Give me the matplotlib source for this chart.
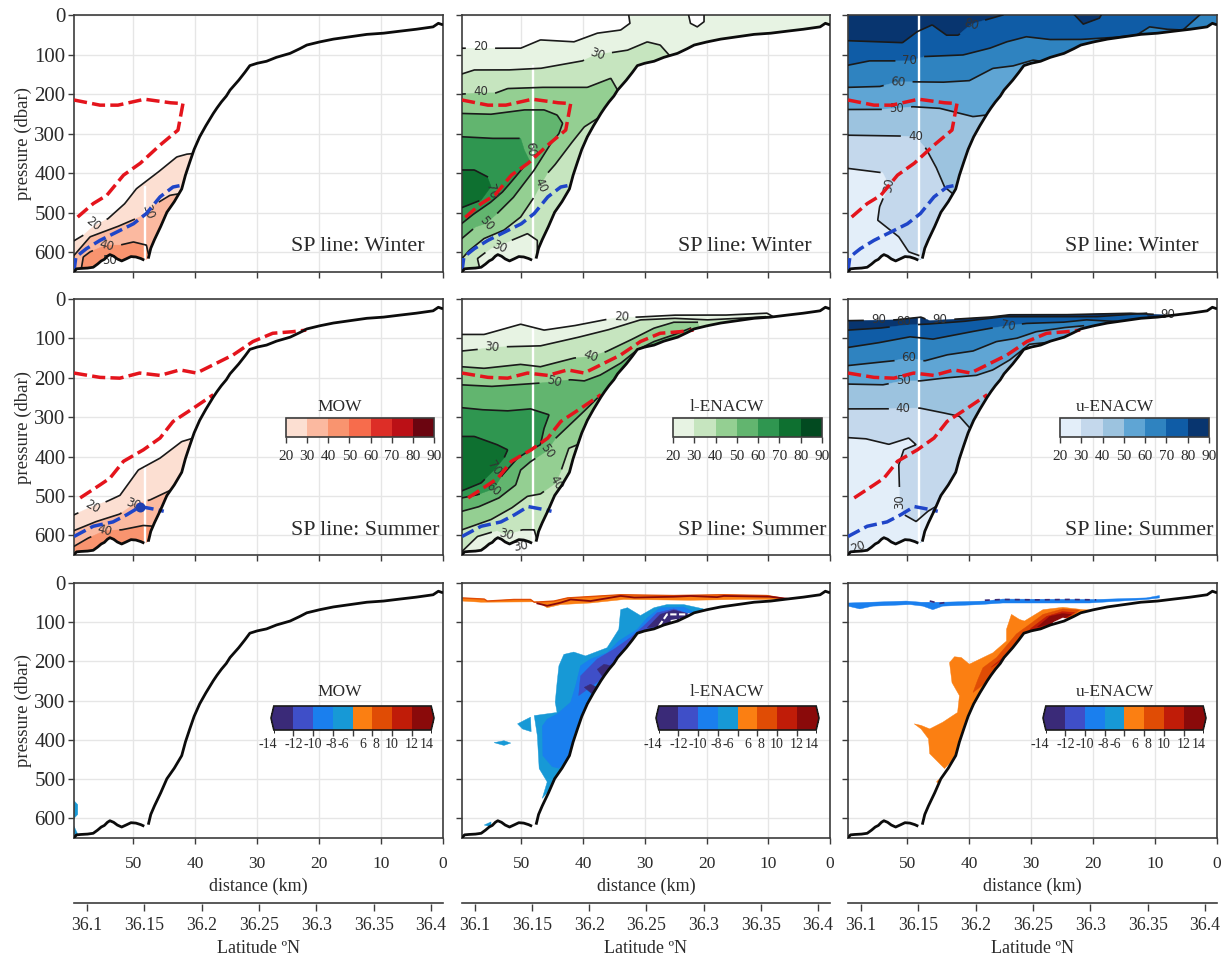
import numpy as np
import matplotlib
matplotlib.use("Agg")
import matplotlib.pyplot as plt
from matplotlib.patches import Polygon
from matplotlib.colors import ListedColormap, BoundaryNorm
from matplotlib.cm import ScalarMappable

plt.rcParams['font.family'] = ['Liberation Serif', 'DejaVu Serif']

# ---------- data: all curves are (distance km, pressure dbar) ----------
bathy_deep = [(59.6,650),(59.2,642),(58.5,641),(57.4,640),(56.5,638),(55.8,630),(55.2,622),(54.7,618),(54.2,610),(53.8,606),(53.2,610),(52.6,617),(51.9,622),(51.2,617),(50.4,611),(49.6,612),(48.8,616),(48.25,620)]
bathy_slope = [(47.6,616),(47.2,590),(46.6,568),(45.6,535),(44.6,499),(43.4,472),(42.2,440),(41.6,405),(40.9,372),(40.2,340),(39.3,308),(38.3,280),(37.1,249),(36.5,235),(35.8,220),(35,205),(34.4,190),(33,165),(32,145),(31.2,128),(30,122),(28.5,117),(26.9,107),(24.7,97),(23.1,85),(22,76),(19.9,68),(17.7,61),(15,55),(12.3,49),(9.6,46),(7,41),(4.3,36),(1.6,30),(0.75,21),(0,25)]

# MOW winter
RW_20 = [(59.6,571),(58.1,557),(56.5,535),(54.1,515),(51.4,477),(49.5,439),(46.3,401),(43,359),(41.4,352),(40.1,350)]
RW_30 = [(59.6,608),(57,561),(52.7,536),(49,511),(46.3,477),(44.1,456),(42.2,451)]
RW_40 = [(58.4,640),(58.1,612),(57,599),(54.4,582),(52.2,582),(50,574),(47.9,582),(47.6,603)]
RW_labels = [(56.5,529,'20',-38,20),(47.6,498,'30',-70,30),(54.4,582,'40',-15,40),(53.8,622,'50',0,50)]

# MOW summer
RS_20 = [(59.6,548),(58.5,540),(56.7,527),(54.3,514),(52.2,499),(49.2,434),(45.7,404),(42.2,362),(40.3,353)]
RS_30 = [(59.6,588),(56,565),(52.2,546),(50,522),(47.3,510),(43.8,484)]
RS_40 = [(59.6,628),(57.3,607),(54.6,588),(51.9,586),(48.4,575),(46.8,577),(47.6,615)]
RS_labels = [(56.7,527,'20',-30,20),(50,522,'30',-20,30),(54.6,588,'40',-15,40)]

# l-ENACW winter
GW_20 = [(59.6,84),(54,84),(50.1,84),(46.9,63),(41.5,68),(37.7,46),(33.9,38),(32.4,21),(32.6,0)]
GW_blob = [(22.9,0),(22.6,21),(21.5,30),(20.4,17),(20.4,0)]
GW_30_top = [(59.6,149),(57.6,139),(52.2,139),(46.9,135),(40.1,116),(37.7,99),(35.3,95),(32.8,89),(29.6,68),(27.5,76),(25.9,104)]
GW_30_bot = [(47.4,600),(47.4,570),(49,553),(52.2,574),(54.9,590),(56,603),(57.1,616),(56.8,636)]
GW_40_top = [(59.6,200),(56.6,197),(54.1,197),(52.2,186),(46.9,183),(39.3,183),(35.5,160),(34.4,190)]
GW_40_bot = [(37.7,262),(39.8,283),(41.5,316),(44.4,376),(45.8,401),(46.9,430),(47.9,460),(50.1,511),(52.8,544),(56,565),(58.4,595),(59.6,616)]
GW_50 = [(59.6,249),(54.9,251),(49.5,240),(46.3,240),(44.2,253),(43.3,274),(43.9,300),(45.2,325),(47.9,392),(51.2,460),(53.9,502),(55.7,527),(57.4,536),(59.6,565)]
GW_60 = [(59.6,308),(54.9,312),(50.1,312),(49.5,342),(48.7,367),(49.8,388),(51.4,418),(53,447),(54.9,473),(57.6,502),(59.6,527)]
GW_70 = [(59.6,392),(57.6,392),(55.5,409),(54.9,434),(56.5,468),(59.6,487)]
GW_labels = [(56.6,80,'20',0,20),(37.7,99,'30',-20,30),(56.6,194,'40',0,40),(48.6,340,'60',-85,60),(54.9,447,'70',-75,70),(55.7,527,'50',-50,50),(46.9,430,'40',-65,40),(53.6,586,'30',-25,30)]

# l-ENACW summer
GS_20 = [(59.6,90),(56,90),(50.1,64),(46.3,79),(41.5,68),(36.6,53),(33.8,46),(31.2,46),(25.3,41),(17.2,41),(10.2,36),(9.2,45)]
GS_30_top = [(59.6,132),(57.6,129),(54.7,123),(52,121),(46.9,119),(41.5,100),(36.1,79),(30.7,53),(25.3,49),(19.9,53),(14.5,49),(10.5,45)]
GS_30_bot = [(47.4,615),(47.9,586),(49.8,586),(52.5,598),(53.9,588),(57.1,603),(59.6,641)]
GS_40_top = [(59.6,172),(56,176),(50.1,166),(46.9,172),(41.5,150),(38.8,146),(36.3,134),(32.8,108),(28.5,74),(25.3,59),(21.5,59)]
GS_40_bot = [(40.9,370),(42.3,379),(43.6,438),(44.4,467),(46.9,495),(49,501),(51.4,529),(54.9,560),(59.6,586)]
GS_50_top = [(59.6,218),(54.9,222),(47.4,214),(44.7,210),(42,205),(39.8,208),(37.2,193),(33.9,163),(31.2,129),(28.5,108),(25.3,91),(22.6,74)]
GS_50_bot = [(37.7,252),(39.3,277),(44.4,353),(45.8,385),(48.5,413),(50.1,434),(50.9,472),(53.6,505),(56.8,527),(59.6,539)]
GS_60 = [(59.6,276),(56.5,281),(52.2,284),(48.5,279),(45.5,294),(46.3,328),(46.9,370),(48.5,383),(50.6,404),(53,446),(54.5,482),(57.1,497),(59.6,505)]
GS_70 = [(59.6,349),(57.6,349),(53.9,370),(52.2,383),(52.8,404),(54.4,434),(56.5,467),(59.6,487)]
GS_labels = [(33.8,46,'20',-3,20),(54.7,123,'30',-5,30),(38.8,146,'40',-20,40),(44.7,210,'50',-15,50),(54.4,430,'70',-55,70),(54.5,482,'60',-40,60),(45.8,385,'50',-55,50),(44.4,467,'40',-60,40),(52.5,598,'30',-15,30),(50.1,628,'30',10,301)]

# u-ENACW winter
BW_80 = [(59.6,65),(54.5,68),(50.8,70),(48.4,42),(46,25),(43.7,51),(41.8,51),(39.7,23),(37.5,13),(34.6,0)]
BW_blob = [(23,0),(21.6,23),(19,8),(18.7,0)]
BW_70 = [(59.6,127),(56.1,116),(52.3,116),(49.6,116),(47.2,105),(41,101),(36.7,84),(34,68),(30.8,55),(27,62),(22.2,62),(16.8,57),(13,51),(10.9,30),(8.2,36),(5.5,38),(2.8,0)]
BW_60 = [(59.6,183),(54.5,181),(51.6,169),(49.1,169),(44.3,170),(40,166),(36.2,135),(33,129),(29.7,114),(28.1,118)]
BW_50 = [(59.6,239),(54.5,239),(51.8,236),(49.1,232),(44.8,236),(39.4,257),(37.3,253)]
BW_40 = [(59.6,304),(51.3,306),(48.7,308),(47,338),(45.4,384),(44,435),(42.4,456),(42,432)]
BW_30 = [(59.6,388),(54,399),(53,430),(54.5,485),(54.8,519),(51.4,561),(49.8,599),(48.2,608)]
BW_labels = [(39.7,23,'80',-15,80),(49.6,116,'70',0,70),(51.6,169,'60',-5,60),(51.8,236,'50',0,50),(48.7,308,'40',0,40),(53,430,'30',80,30)]

# u-ENACW summer
BS_top = [(59.6,55),(52,53),(47.8,46),(46.4,55),(41,50),(36.7,46),(33.5,40),(24.9,40),(14.1,36),(8.7,40)]
BS_80 = [(59.6,79),(54.5,74),(50.2,66),(47,64),(41,57),(34.6,45),(19.5,45),(11.4,36)]
BS_70 = [(59.6,123),(55,112),(49.6,96),(45.9,102),(41,87),(36.5,74),(33.8,68),(30.8,62),(24.9,59),(21.1,53),(16.3,57)]
BS_60 = [(59.6,169),(56.1,163),(52.3,157),(49.8,149),(47.2,157),(43.7,142),(39.4,132),(35.6,108),(32.4,100),(29.2,83),(24.9,73),(21.6,68)]
BS_50 = [(59.6,216),(54,218),(50.7,208),(48,208),(44.3,201),(38.9,194),(36.2,180),(33.5,155),(30.3,115),(26,108),(23.3,91)]
BS_40 = [(59.6,279),(53.4,279),(50.7,277),(48,277),(44.8,287),(41.6,298),(39.9,328)]
BS_30 = [(59.6,352),(56.7,355),(53,369),(49.8,353),(48.6,370),(50.6,383),(51.4,421),(51.3,476),(51.3,514),(50.5,548),(48.6,565),(46.7,539),(45.4,527)]
BS_labels = [(54.6,53,'90',0,90),(50.6,57,'80',0,80),(44.8,53,'90',0,90),(7.9,40,'90',0,90),(33.8,68,'70',-10,70),(49.8,149,'60',0,60),(50.7,208,'50',0,50),(50.7,277,'40',0,40),(51.3,514,'30',90,30),(58,630,'20',20,20)]

# water-mass boundaries
red_w = [(59.6,215),(55.4,228),(52.5,228),(48.2,213),(44,222),(42,224),(42.8,291),(44.1,308),(45.7,329),(48.9,375),(51.6,405),(54.3,456),(56.5,477),(59.6,519)]
blue_w = [(59.6,648),(59.3,612),(57.6,591),(55.4,570),(50,528),(47.9,502),(45.7,460),(43.6,435),(42,430)]
red_s_upper = [(59.6,188),(55.4,199),(52.2,201),(49,188),(45.7,194),(42.5,180),(39.8,188),(37.1,167),(33.9,142),(30.7,108),(27.5,87),(24.3,83),(22.1,79)]
red_s_lower = [(58.6,505),(55.4,472),(53.8,455),(51.6,412),(48.4,383),(45.7,353),(43.6,311),(40.3,277),(37.1,243)]
blue_s = [(59.6,603),(56.5,577),(53.3,566),(51.1,548),(48.9,527),(46.2,535),(45.1,539)]
blue_s_dot = (48.9,527)

# differences, l-ENACW
DG_6 = [(46.6,549),(45.8,507),(47.1,473),(47.4,389),(47.9,338),(44.2,330),(44.5,304),(44.2,254),(43.9,211),(43.1,182),(41.5,176),(39.6,186),(36.1,165),(34.2,118),(33.9,68),(32.8,63),(30.7,83),(28.5,63),(26.4,55),(23.7,55),(20.5,66)]
DG_6b = [(50.6,359),(49.5,350),(48.5,342),(48.4,379),(49.8,372)]
DG_6c = [(54.4,407),(52.8,402),(51.7,408),(52.8,414)]
DG_6d = [(56,617),(54.9,609),(54.9,621)]
DG_8 = [(43.9,472),(45,468),(46.5,440),(46.6,365),(45.8,347),(44.2,334),(42,304),(41.2,262),(40.4,211),(38.8,194),(36.1,178),(34.2,148),(31.2,118),(29.6,89),(27.5,63),(23.7,61),(22.1,74)]
DG_10 = [(40.7,287),(40.4,237),(37.7,194),(35,169),(32.3,139),(30.2,110),(28,76),(25.3,66),(22.6,80)]
DG_12a = [(39.8,266),(38.8,258),(37.7,266),(38.2,287)]
DG_12b = [(37.7,220),(36.6,207),(35.5,211),(36.9,237)]
DG_12c = [(29.6,114),(27.5,80),(25.3,69),(22.6,80),(25.8,106)]
DG_white_a = [(27.7,110),(26.4,80),(22.6,80)]
DG_white_b = [(25.8,97),(24.2,93)]
DG_strip_upper = [(59.6,38),(56,41),(55.5,46),(51.2,42),(48.5,42),(47.9,49),(44.7,46),(42.5,38),(33.9,30),(25.3,32),(17.2,30),(10.2,32),(7,41)]
DG_strip_lower = [(59.6,46),(56.5,49),(47.4,48),(45.8,63),(43.6,55),(38.8,51),(33.4,42),(22.6,44),(14.5,42),(7,42)]
DG_strip_dark = [(47.4,52),(45.8,58),(43.6,50),(42,42),(38.8,46),(33.9,33),(31.7,37),(25.3,35),(22.6,33),(18.3,36),(17.2,33),(9.7,35),(7,40)]

# differences, u-ENACW
DB_6 = [(44,473),(46.4,435),(46.6,397),(47.8,372),(48.9,359),(47.8,363),(46.4,372),(44.3,355),(41.9,330),(41.6,287),(42.8,254),(43.2,203),(42.4,188),(41.3,190),(40,207),(36.2,178),(34,148),(34,118),(33.2,80),(31.9,93),(31.1,97),(28.1,68),(24.9,62),(21.6,68),(20,69)]
DB_6b = [(45.3,507),(44.5,516),(44.9,500)]
DB_8 = [(39.4,279),(38.6,245),(37.8,216),(35.6,190),(34,160),(32.4,130),(30.3,106),(28.1,80),(24.9,66),(22.2,69)]
DB_10 = [(36.5,215),(33,170),(30,115),(27.5,85),(25,73),(23,75)]
DB_12 = [(29,112),(27,85),(25,78),(23.5,80),(26,100)]
DB_gap = [(26.5,101),(24.9,89),(23.5,93),(24.9,106)]
DB_strip_upper = [(59.6,51),(50.2,46),(47.8,49),(44.3,49),(37.5,46),(34.6,41),(19.5,42),(11.4,38),(9.3,32)]
DB_strip_lower = [(59.6,59),(57.7,66),(55.6,59),(49.6,55),(47.5,59),(45.9,68),(44.3,59),(38.3,55),(34.6,51),(20.6,51),(11.4,42),(9.3,38)]
DB_dark_a = [(46.4,46),(44.8,52),(44,50)]
DB_dark_b = [(37.5,44),(34.6,42),(29,43),(24,42),(19.5,43)]

# differences, MOW
DR_6a = [(59.6,555),(59,565),(59,590),(59.6,600)]
DR_6b = [(59.6,620),(59,640),(58.8,648),(59.6,650)]

# axis ticks and colour bars
km_ticks = [50,40,30,20,10,0]
dbar_ticks = [0,100,200,300,400,500,600]
lat_ticks = [36.1,36.15,36.2,36.25,36.3,36.35,36.4]
lat_labels = ['36.1','36.15','36.2','36.25','36.3','36.35','36.4']
cb_levels = [20,30,40,50,60,70,80,90]
diff_labels = ['-14','-12','-10','-8','-6','6','8','10','12','14']

# ---------- styles ----------
W, H = 1223, 955
REDS = ['#fcdfd2','#fbb9a0','#f9946f','#f76c4c','#dd2e27','#bb1016','#6b0510']
GREENS = ['#e7f3e3','#c6e5bf','#94cf92','#62b56f','#2f9650','#0e7030','#024a20']
BLUES = ['#e3eef9','#c4d8ec','#9cc3df','#5fa5d4','#2f83c0','#0f5ca6','#08356f']
DIFF = ['#3a2a78','#3f4fc8','#1a7fee','#1799d6','#fb7f12','#e04c05','#c01c08','#8a0a0a']
TXT = '#2a2a2a'
SPINE = '#3c3c3c'
col_px = [(74,443),(462,830),(848,1217)]
row_px = [(15,272),(299,555),(583,838)]
diff_label_pos = [-0.3,1,2,2.9,3.55,4.5,5.2,6,7,7.75]
water_pts = [(60,0),(0,0)] + bathy_slope[::-1] + bathy_deep[::-1] + [(60,650)]


def rect(l, t, r, b):
    return [l/W, 1-b/H, (r-l)/W, (b-t)/H]


def ring(top, bot=None, closed=False, via=None):
    pts = list(top) + list(via or [])
    if closed:
        return pts + [(60.5,top[-1][1]),(60.5,top[0][1])]
    pts.append((0,700))
    if bot:
        pts += list(bot) + [(bot[-1][0],700)]
    return pts + [(60.5,700),(60.5,top[0][1])]


def curve_with_gaps(curve, labels, level):
    """Densify a curve and leave it open around its own labels."""
    pts = np.array(curve, float)
    seg = np.hypot(np.diff(pts[:,0])*6.19, np.diff(pts[:,1])*0.395)
    s = np.r_[0, np.cumsum(seg)]
    t = np.arange(0, s[-1]+1, 1.0)
    x, y = np.interp(t, s, pts[:,0]), np.interp(t, s, pts[:,1])
    for lx, ly, _, _, lev in labels:
        if lev == level:
            d = np.hypot((x-lx)*6.19, (y-ly)*0.395)
            y = np.where(d < 15, np.nan, y)
    return x, y


def make_axes(r, c):
    l, rr = col_px[c]
    t, b = row_px[r]
    ax = fig.add_axes(rect(l, t, rr, b))
    ax.set_xlim(59.6, 0)
    ax.set_ylim(650, 0)
    ax.set_xticks(km_ticks)
    ax.set_yticks(dbar_ticks)
    ax.set_axisbelow(True)
    ax.grid(True, color='#e6e6e6', lw=1.0)
    for s in ax.spines.values():
        s.set_color(SPINE)
        s.set_linewidth(1.2)
    ax.tick_params(colors=SPINE, length=4, width=1, labelcolor=TXT)
    ax.tick_params(axis='y', labelsize=15, labelleft=(c == 0), pad=2)
    ax.tick_params(axis='x', labelsize=12.5, labelbottom=(r == 2), pad=9)
    if c == 0:
        ax.set_ylabel('pressure (dbar)', fontsize=13.5, color=TXT, labelpad=2)
    if r == 2:
        ax.set_xlabel('distance (km)', fontsize=13, color=TXT, labelpad=4)
    return ax


def clip_patch(ax):
    return Polygon(water_pts, closed=True, transform=ax.transData, fc='none', ec='none')


def fill(ax, pts, color, clip, z=1.0):
    p = Polygon(pts, closed=True, fc=color, ec=color, lw=0.3, zorder=z)
    ax.add_patch(p)
    p.set_clip_path(clip)


def draw_bands(ax, bands, labels, palette, white_span):
    clip = clip_patch(ax)
    ax.add_patch(clip)
    for i, (poly, lines, level, band) in enumerate(bands):
        fill(ax, poly, palette[band], clip, z=1+i*0.01)
    ax.plot([48.15,48.15], white_span, color='white', lw=1.7, zorder=2, clip_path=clip)
    for poly, lines, level, band in bands:
        for curve in lines:
            x, y = curve_with_gaps(curve, labels, level)
            ln, = ax.plot(x, y, color='#1a1a1a', lw=1.2, zorder=3)
            ln.set_clip_path(clip)
    for x, y, s, rot, lev in labels:
        ax.text(x, y, s, rotation=rot, ha='center', va='center', fontsize=8.5,
                family='DejaVu Sans', color='#333333', zorder=4)
    return clip


def draw_bathy(ax):
    for seg in (bathy_deep, bathy_slope):
        a = np.array(seg)
        ax.plot(a[:,0], a[:,1], color='#0c0c0c', lw=2.0, zorder=6, solid_capstyle='butt')


def draw_line(ax, pts, color):
    a = np.array(pts)
    ax.plot(a[:,0], a[:,1], color=color, lw=2.5, zorder=5, dashes=(3.8,1.5))


def bar_title(cx, cy, s):
    fig.text(cx/W, 1-cy/H, s, fontsize=12.5, color=TXT, ha='center', va='center')


def level_colorbar(ax_rect, title, palette, title_x):
    cax = fig.add_axes(rect(*ax_rect))
    cmap = ListedColormap(palette)
    norm = BoundaryNorm(cb_levels, cmap.N)
    cb = fig.colorbar(ScalarMappable(norm=norm, cmap=cmap), cax=cax, orientation='horizontal',
                      ticks=cb_levels, spacing='uniform')
    cb.ax.tick_params(labelsize=11, length=4, width=1, pad=5, colors=SPINE, labelcolor=TXT)
    cb.outline.set_edgecolor(SPINE)
    cb.outline.set_linewidth(1.2)
    bar_title(title_x, 407, title)


def diff_colorbar(ax_rect, title, title_x):
    cax = fig.add_axes(rect(*ax_rect))
    cmap = ListedColormap(DIFF)
    cmap.set_under(DIFF[0])
    cmap.set_over(DIFF[-1])
    edges = list(range(9))
    norm = BoundaryNorm(edges, cmap.N, extend='neither')
    cb = fig.colorbar(ScalarMappable(norm=norm, cmap=cmap), cax=cax, orientation='horizontal',
                      extend='both', extendfrac=0.018, ticks=edges[1:-1], spacing='uniform')
    cb.ax.tick_params(labelbottom=False, length=4, width=1, colors=SPINE)
    cb.outline.set_edgecolor('#1a1a1a')
    cb.outline.set_linewidth(1.2)
    for pos, s in zip(diff_label_pos, diff_labels):
        cax.annotate(s, (pos, 0), xycoords=('data','axes fraction'), xytext=(0,-6),
                     textcoords='offset points', ha='center', va='top', fontsize=10, color=TXT)
    bar_title(title_x, 692, title)


def lat_axis(c):
    l, rr = col_px[c]
    ax = fig.add_axes(rect(l, 903, rr, 904))
    ax.set_xlim(36.0887, 36.4105)
    ax.set_yticks([])
    for k in ('left','right','bottom'):
        ax.spines[k].set_visible(False)
    ax.spines['top'].set_color(SPINE)
    ax.spines['top'].set_linewidth(1.2)
    ax.patch.set_alpha(0)
    ax.set_xticks(lat_ticks)
    ax.set_xticklabels(lat_labels)
    ax.tick_params(axis='x', labelsize=12.8, length=5, width=1, colors=SPINE, labelcolor=TXT, pad=4)
    ax.set_xlabel('Latitude ºN', fontsize=13, color=TXT, labelpad=4.5)


def season_text(c, r, s):
    xleft = [291,678,1065][c]
    ypx = [246,530][r]
    fig.text(xleft/W, 1-ypx/H, s, fontsize=15.8, color=TXT, ha='left', va='center', zorder=10)


# ---------- figure ----------
fig = plt.figure(figsize=(W/100, H/100), dpi=100, facecolor='white')

axes = [[make_axes(r, c) for c in range(3)] for r in range(3)]

ANY = [(0,0)]
bands_rw = [(ring(RW_20), [RW_20], 20, 0), (ring(RW_30), [RW_30], 30, 1), (ring(RW_40), [RW_40], 40, 2)]
bands_rs = [(ring(RS_20), [RS_20], 20, 0), (ring(RS_30), [RS_30], 30, 1), (ring(RS_40), [RS_40], 40, 2)]
bands_gw = [(ring(GW_20, via=ANY), [GW_20], 20, 0),
            (ring(GW_30_top, GW_30_bot), [GW_30_top, GW_30_bot], 30, 1),
            (ring(GW_40_top, GW_40_bot), [GW_40_top, GW_40_bot], 40, 2),
            (ring(GW_50, closed=True), [GW_50], 50, 3),
            (ring(GW_60, closed=True), [GW_60], 60, 4),
            (ring(GW_70, closed=True), [GW_70], 70, 5)]
bands_gs = [(ring(GS_20), [GS_20], 20, 0),
            (ring(GS_30_top, GS_30_bot), [GS_30_top, GS_30_bot], 30, 1),
            (ring(GS_40_top, GS_40_bot), [GS_40_top, GS_40_bot], 40, 2),
            (ring(GS_50_top, GS_50_bot), [GS_50_top, GS_50_bot], 50, 3),
            (ring(GS_60, closed=True), [GS_60], 60, 4),
            (ring(GS_70, closed=True), [GS_70], 70, 5)]
bands_bw = [(water_pts, [], 90, 6),
            (ring(BW_80, via=ANY), [BW_80], 80, 5),
            (ring(BW_70, via=ANY), [BW_70], 70, 4),
            (ring(BW_60), [BW_60], 60, 3),
            (ring(BW_50), [BW_50], 50, 2),
            (ring(BW_40), [BW_40], 40, 1),
            (ring(BW_30), [BW_30], 30, 0)]
bands_bs = [(ring(BS_top), [BS_top], 90, 6),
            (ring(BS_80), [BS_80], 80, 5),
            (ring(BS_70), [BS_70], 70, 4),
            (ring(BS_60), [BS_60], 60, 3),
            (ring(BS_50), [BS_50], 50, 2),
            (ring(BS_40), [BS_40], 40, 1),
            (ring(BS_30), [BS_30], 30, 0)]

draw_bands(axes[0][0], bands_rw, RW_labels, REDS, (435,620))
draw_bands(axes[1][0], bands_rs, RS_labels, REDS, (429,620))
clip_gw = draw_bands(axes[0][1], bands_gw, GW_labels, GREENS, (130,616))
draw_bands(axes[1][1], bands_gs, GS_labels, GREENS, (58,616))
clip_bw = draw_bands(axes[0][2], bands_bw, BW_labels, BLUES, (0,608))
draw_bands(axes[1][2], bands_bs, BS_labels, BLUES, (48,616))

# small enclosed contours
fill(axes[0][1], GW_blob, 'white', clip_gw, z=1.005)
a = np.array(GW_blob); axes[0][1].plot(a[:,0], a[:,1], color='#1a1a1a', lw=1.2, zorder=3)
fill(axes[0][2], BW_blob, BLUES[6], clip_bw, z=1.5)
a = np.array(BW_blob); axes[0][2].plot(a[:,0], a[:,1], color='#1a1a1a', lw=1.2, zorder=3)

for c in range(3):
    draw_line(axes[0][c], red_w, '#e4141c')
    draw_line(axes[0][c], blue_w, '#1f45c8')
    draw_line(axes[1][c], red_s_upper, '#e4141c')
    draw_line(axes[1][c], red_s_lower, '#e4141c')
    draw_line(axes[1][c], blue_s, '#1f45c8')
axes[1][0].scatter(*blue_s_dot, s=38, color='#1f3fb0', zorder=5)

# difference row
ax = axes[2][0]
clip = clip_patch(ax); ax.add_patch(clip)
fill(ax, DR_6a, DIFF[3], clip, 2)
fill(ax, DR_6b, DIFF[3], clip, 2)

ax = axes[2][1]
clip = clip_patch(ax); ax.add_patch(clip)
fill(ax, DG_6, DIFF[3], clip, 2)
for p in (DG_6b, DG_6c, DG_6d):
    fill(ax, p, DIFF[3], clip, 2)
fill(ax, DG_8, DIFF[2], clip, 2.1)
fill(ax, DG_10, DIFF[1], clip, 2.2)
for p in (DG_12a, DG_12b, DG_12c):
    fill(ax, p, DIFF[0], clip, 2.3)
for p in (DG_white_a, DG_white_b):
    a = np.array(p)
    ax.plot(a[:,0], a[:,1], color='white', lw=1.5, dashes=(3,1.2), zorder=3)
fill(ax, DG_strip_upper + DG_strip_lower[::-1], DIFF[4], clip, 2)
a = np.array(DG_strip_upper); ax.plot(a[:,0], a[:,1], color=DIFF[5], lw=1.0, zorder=2.5)
a = np.array(DG_strip_dark); ax.plot(a[:,0], a[:,1], color=DIFF[7], lw=1.3, zorder=2.6)

ax = axes[2][2]
clip = clip_patch(ax); ax.add_patch(clip)
fill(ax, DB_6, DIFF[4], clip, 2)
fill(ax, DB_6b, DIFF[4], clip, 2)
fill(ax, DB_8, DIFF[5], clip, 2.1)
fill(ax, DB_10, DIFF[6], clip, 2.2)
fill(ax, DB_12, DIFF[7], clip, 2.3)
fill(ax, DB_gap, 'white', clip, 2.4)
fill(ax, DB_strip_upper + DB_strip_lower[::-1], DIFF[2], clip, 2)
for p in (DB_dark_a, DB_dark_b):
    a = np.array(p)
    ax.plot(a[:,0], a[:,1], color=DIFF[0], lw=1.2, zorder=2.5, dashes=(3,3))

for r in range(3):
    for c in range(3):
        draw_bathy(axes[r][c])

for c in range(3):
    season_text(c, 0, 'SP line: Winter')
    season_text(c, 1, 'SP line: Summer')
    lat_axis(c)

level_colorbar((286,418,434,437), 'MOW', REDS, 340)
level_colorbar((673,418,822,437), 'l-ENACW', GREENS, 727)
level_colorbar((1060,418,1209,437), 'u-ENACW', BLUES, 1115)
diff_colorbar((271,706,434,730), 'MOW', 340)
diff_colorbar((656,706,819,730), 'l-ENACW', 727)
diff_colorbar((1043,706,1206,730), 'u-ENACW', 1115)

fig.savefig('out.png', dpi=100)
